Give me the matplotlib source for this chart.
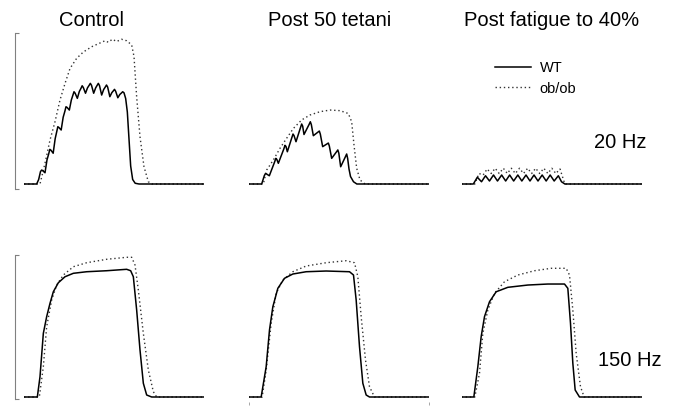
import matplotlib
matplotlib.use('Agg')
import matplotlib.pyplot as plt

plt.rcParams['font.family'] = ['Liberation Sans', 'DejaVu Sans']

# column titles and row labels
titles = ['Control', 'Post 50 tetani', 'Post fatigue to 40%']
rates = ['20 Hz', '150 Hz']
series_names = ['WT', 'ob/ob']

# ---- 20 Hz traces (time in ms, force in % of scale bar) ----
ctl20_wt_t = [0, 76, 88, 99, 106, 113, 126, 138, 148, 155, 162, 175, 187, 196, 203, 210, 223,
              235, 245, 252, 259, 272, 284, 293, 300, 307, 320, 332, 342, 349, 356, 369,
              381, 391, 398, 405, 418, 430, 439, 446, 453, 466, 478, 488, 495, 502, 515,
              527, 536, 543, 550, 563, 575, 585, 592, 600, 610, 620, 630, 640, 652, 667, 690, 1080]
ctl20_wt_f = [0, 0, 3, 8.3, 9.3, 8.8, 7.5, 16.1, 20, 23.1, 22.5, 20.5, 30.2, 34.7, 38.2, 37.6, 36,
              44.5, 48.4, 51.5, 51, 49.3, 56, 59.1, 61.5, 60.5, 57.1, 61.7, 63.8, 65.5, 64.3, 60.5,
              64.1, 65.8, 67.1, 65.8, 60.5, 64.1, 65.8, 67.1, 65.6, 59.3, 63, 64.7, 66, 64.6, 58.2,
              60.9, 62.1, 63.1, 61.8, 57.5, 59.7, 60.7, 61.5, 60.8, 57, 48, 30, 12, 3, 0.5, 0, 0]
ctl20_ob_t = [0, 96, 126, 156, 186, 216, 246, 276, 316, 356, 406, 436, 456, 486, 506, 530,
              556, 585, 616, 646, 660, 676, 696, 720, 746, 768, 1080]
ctl20_ob_f = [0, 0, 13.8, 29.3, 41.5, 56, 67, 77, 83.8, 88, 91.5, 93, 94, 95.5, 94.5, 96.5,
              95, 96.5, 95.5, 92.7, 85, 58, 31.5, 11.5, 1.5, 0, 0]

p50_20_wt_t = [0, 79, 95, 102, 108, 125, 157, 164, 170, 179, 212, 219, 225, 233, 260, 267, 273, 285,
               312, 319, 325, 333, 364, 371, 377, 389, 418, 425, 431, 445, 472, 479, 485, 499,
               529, 536, 542, 553, 582, 589, 595, 603, 612, 630, 650, 1080]
p50_20_wt_f = [0, 0, 5.6, 7, 6.7, 5.5, 14.8, 17.1, 16.4, 13.8, 23.4, 25.8, 25, 21.5, 30.9, 33.3, 32.3, 28.2,
               37.6, 40, 38.6, 33, 39.8, 41.5, 39.6, 32.2, 34.7, 35.3, 33.2, 24.9, 26.8, 27.3, 25.3, 17.1,
               21.6, 22.7, 20.5, 11.5, 18.3, 20, 17, 10, 5, 1.5, 0, 0]
p50_20_ob_t = [0, 89, 109, 149, 189, 229, 269, 319, 369, 429, 489, 549, 599, 619, 633, 649, 669, 699, 1080]
p50_20_ob_f = [0, 0, 9.3, 16, 23.8, 30.5, 37, 42.7, 46, 48.2, 49.3, 48.9, 47, 41.5, 26, 10.5, 2.7, 0, 0]

fat20_wt_t = [0, 71, 95, 120, 144, 168, 192, 216, 241, 265, 289, 313, 338, 362, 387, 411,
              435, 459, 484, 508, 532, 556, 581, 600, 620, 1080]
fat20_wt_f = [0, 0, 4.5, 1.5, 5.5, 2, 6, 2, 6, 2, 6, 2, 6, 2, 6, 2,
              6, 2, 6, 2, 6, 2, 5.5, 1.5, 0, 0]
fat20_ob_t = [0, 80, 105, 130, 154, 178, 202, 226, 251, 275, 299, 323, 348, 372, 397, 421,
              445, 469, 494, 518, 542, 566, 591, 620, 1080]
fat20_ob_f = [0, 0, 7, 6, 10, 7, 10.5, 7, 10.5, 7, 10.5, 7, 10.5, 7, 10.5, 7,
              10.5, 7, 10.5, 7, 10.5, 7, 10, 0, 0]

# ---- 150 Hz traces ----
ctl150_wt_t = [0, 80, 96, 116, 136, 156, 176, 206, 246, 296, 376, 496, 616, 640, 656, 676, 696, 716, 736, 766, 1080]
ctl150_wt_f = [0, 0, 14.2, 44.5, 56.2, 65.5, 73.6, 79.9, 84.1, 86.5, 87.6, 88.3, 89.3, 88.3, 84.1, 60.8, 32.9, 9.6, 1.4, 0, 0]
ctl150_ob_t = [0, 92, 116, 136, 166, 196, 236, 296, 376, 496, 616, 646, 666, 686, 716, 746, 776, 796, 1080]
ctl150_ob_f = [0, 0, 21.2, 49.2, 67.8, 78.3, 85.3, 91.1, 93.9, 96.3, 97.7, 97.7, 92.3, 74.8, 44.5, 18.9, 3.7, 0, 0]

p50_150_wt_t = [0, 76, 106, 126, 146, 176, 216, 266, 346, 466, 606, 630, 646, 666, 686, 706, 726, 1080]
p50_150_wt_f = [0, 0, 21.2, 46.9, 63.1, 76, 83, 86, 87.6, 88.1, 87.6, 85.3, 67.8, 35.2, 9.6, 1.4, 0, 0]
p50_150_ob_t = [0, 82, 106, 136, 166, 206, 266, 346, 466, 586, 636, 656, 676, 702, 726, 756, 1080]
p50_150_ob_f = [0, 0, 18.6, 51.5, 72.5, 81.8, 87.6, 91.6, 93.9, 95.3, 93.9, 84.1, 56.2, 25.9, 7.2, 0, 0]

fat150_wt_t = [0, 74, 98, 118, 138, 168, 208, 278, 398, 518, 618, 638, 654, 668, 682, 708, 1080]
fat150_wt_f = [0, 0, 21.2, 42.2, 56.2, 66.6, 73.6, 76.7, 78.3, 79, 79, 76, 51.5, 23.6, 4.9, 0, 0]
fat150_ob_t = [0, 80, 108, 128, 158, 198, 258, 338, 438, 538, 628, 648, 668, 688, 714, 736, 1080]
fat150_ob_f = [0, 0, 16.6, 44.5, 60.8, 72.5, 80.6, 85.3, 88.3, 90, 90, 85.3, 60.8, 30.6, 7.2, 0, 0]

traces = [
    [(ctl20_wt_t, ctl20_wt_f, ctl20_ob_t, ctl20_ob_f),
     (p50_20_wt_t, p50_20_wt_f, p50_20_ob_t, p50_20_ob_f),
     (fat20_wt_t, fat20_wt_f, fat20_ob_t, fat20_ob_f)],
    [(ctl150_wt_t, ctl150_wt_f, ctl150_ob_t, ctl150_ob_f),
     (p50_150_wt_t, p50_150_wt_f, p50_150_ob_t, p50_150_ob_f),
     (fat150_wt_t, fat150_wt_f, fat150_ob_t, fat150_ob_f)],
]

# scale bar ends (force units) for each row
scale_bars = [(-3.3, 100.5), (-1.4, 99.3)]

# layout in pixels
W, H = 675, 407
col_x0 = [24, 248.5, 461.5]
col_w = 180
t_max = 1080
rows_px = [(30, 190, 184, 1.5), (250, 402, 397, 1.43)]   # top, bottom, baseline, px per unit

fig = plt.figure(figsize=(W / 100, H / 100), dpi=100)

for r in range(2):
    top, bot, base, ppu = rows_px[r]
    ylo = -(bot - base) / ppu
    yhi = (base - top) / ppu
    for c in range(3):
        ax = fig.add_axes([col_x0[c] / W, 1 - bot / H, col_w / W, (bot - top) / H])
        wt_t, wt_f, ob_t, ob_f = traces[r][c]
        ax.plot(ob_t, ob_f, color='0.2', lw=1.0, linestyle=(0, (1, 2)), label=series_names[1])
        ax.plot(wt_t, wt_f, color='black', lw=1.1, label=series_names[0])
        ax.set_xlim(0, t_max)
        ax.set_ylim(ylo, yhi)
        for s in ax.spines.values():
            s.set_visible(False)
        ax.set_xticks([])
        ax.set_yticks([])
        if c == 0:
            # scale bar bracket
            sp = ax.spines['left']
            sp.set_visible(True)
            sp.set_position(('outward', (col_x0[0] - 15) * 0.72))
            sp.set_bounds(*scale_bars[r])
            sp.set_color('0.5')
            sp.set_linewidth(0.8)
            ax.set_yticks(list(scale_bars[r]))
            ax.tick_params(axis='y', direction='in', length=3, width=0.8, color='0.5', labelleft=False)
        if r == 1 and c == 1:
            ax.set_xticks([0, t_max])
            ax.tick_params(axis='x', length=2, width=0.6, color='0.6', labelbottom=False)
        if r == 0 and c == 2:
            wt_line, ob_line = ax.lines[1], ax.lines[0]

# column titles
title_x = [92, 330, 552]
for c in range(3):
    fig.text(title_x[c] / W, 1 - 25.5 / H, titles[c], ha='center', va='baseline', fontsize=14.5)

# frequency labels
fig.text(620 / W, 1 - 148 / H, rates[0], ha='center', va='baseline', fontsize=14.5)
fig.text(630 / W, 1 - 366.5 / H, rates[1], ha='center', va='baseline', fontsize=14.5)

fig.legend([wt_line, ob_line], series_names, loc='upper left',
           bbox_to_anchor=(495 / W, 1 - 61 / H), frameon=False, fontsize=10.5,
           handlelength=2.45, handletextpad=0.6, labelspacing=0.45,
           borderpad=0, borderaxespad=0)

fig.savefig('out.png', dpi=100)
